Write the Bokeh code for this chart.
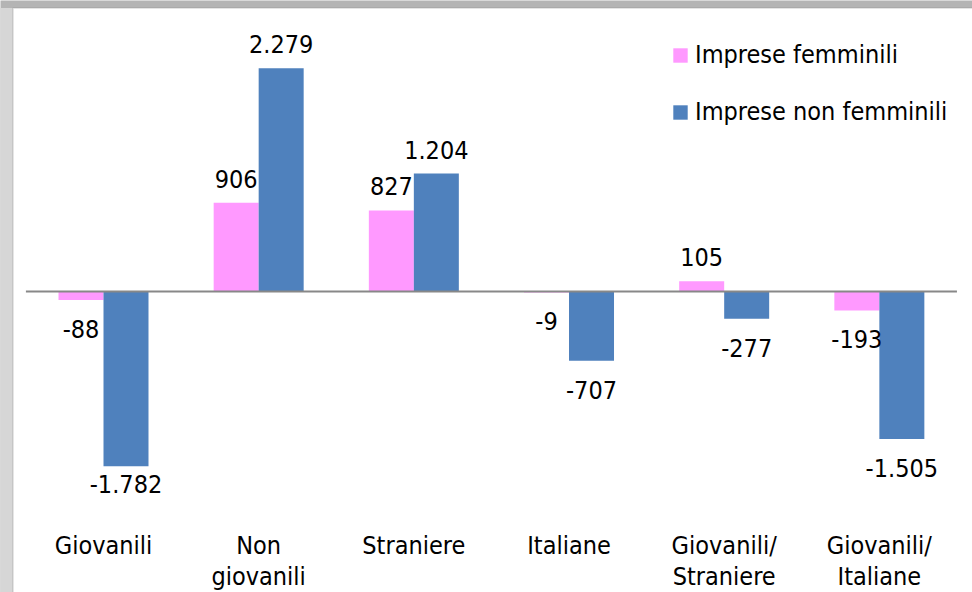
from bokeh.plotting import figure
from bokeh.models import ColumnDataSource, Range1d, Legend, LegendItem, BoxAnnotation
from bokeh.core.properties import value
from bokeh.embed import file_html
from bokeh.resources import INLINE

# ---- data ----
categories = ["Giovanili", "Non\ngiovanili", "Straniere", "Italiane",
              "Giovanili/\nStraniere", "Giovanili/\nItaliane"]
femminili = [-88, 906, 827, -9, 105, -193]
non_femminili = [-1782, 2279, 1204, -707, -277, -1505]
series_names = ["Imprese femminili", "Imprese non femminili"]
colors = ["#FF99FF", "#4F81BD"]

FONT = "DejaVu Sans Condensed"
FS = "25px"

W, H = 972, 592
# pixel geometry of the plotting area
zero_px = 291.0          # y pixel of value 0 from top
px_per_unit = 0.098      # pixels per unit
cat_px = 155.17          # width of one category
first_center_px = 103.0  # x pixel of first category center

y_top = zero_px / px_per_unit
y_bot = -(H - zero_px) / px_per_unit
x_start = -first_center_px / cat_px
x_end = (W - first_center_px) / cat_px

def px2y(py):
    return (zero_px - py) / px_per_unit

def px2x(px):
    return (px - first_center_px) / cat_px

p = figure(width=W, height=H, output_backend="svg", toolbar_location=None,
           x_range=Range1d(x_start, x_end), y_range=Range1d(y_bot, y_top),
           x_axis_location=None, y_axis_location=None,
           min_border=0, min_border_left=0, min_border_right=0,
           min_border_top=0, min_border_bottom=0)
p.outline_line_color = None
p.grid.visible = False
p.background_fill_color = "#b4b4b4"
p.border_fill_color = "white"

# window frame (gray strips) and white chart area
p.add_layout(BoxAnnotation(right=px2x(12.5), top=px2y(7.5), fill_color="#d6d6d6",
                           fill_alpha=1, line_color=None, level="underlay"))
p.add_layout(BoxAnnotation(left=px2x(12.5), top=px2y(7.5),
                           right=px2x(W + 20), bottom=px2y(H + 20),
                           fill_color="white", fill_alpha=1,
                           line_color="#8a8a8a", line_width=1.5,
                           level="underlay"))

idx = list(range(len(categories)))
bw = 0.29
xf = [i - bw / 2 for i in idx]
xn = [i + bw / 2 for i in idx]

def fmt(v):
    return f"{v:,}".replace(",", ".")

src_f = ColumnDataSource(dict(x=xf, top=femminili))
src_n = ColumnDataSource(dict(x=xn, top=non_femminili))
r_f = p.vbar(x="x", top="top", bottom=0, width=bw, source=src_f,
             fill_color=colors[0], line_color=None)
r_n = p.vbar(x="x", top="top", bottom=0, width=bw, source=src_n,
             fill_color=colors[1], line_color=None)

# zero line
p.segment(x0=[-0.5], x1=[len(categories) - 0.5], y0=[0], y1=[0],
          line_color="#888888", line_width=2)

# data labels
above = 24 / px_per_unit
below = 29 / px_per_unit
floor = px2y(483)

def label_y(v):
    if v >= 0:
        return v + above
    return max(v - below, floor)

lx = xf + xn
lv = femminili + non_femminili
src_l = ColumnDataSource(dict(x=lx, y=[label_y(v) for v in lv],
                              t=[fmt(v) for v in lv]))
p.text(x="x", y="y", text="t", source=src_l, text_align="center",
       text_baseline="alphabetic", text_font=value(FONT),
       text_font_size=FS, text_color="#000000")

# category labels
src_c = ColumnDataSource(dict(x=idx, y=[px2y(530)] * len(idx), t=categories))
p.text(x="x", y="y", text="t", source=src_c, text_align="center",
       text_baseline="top", text_font=value(FONT), text_font_size=FS,
       text_color="#000000", text_line_height=1.1)

legend = Legend(items=[LegendItem(label=series_names[0], renderers=[r_f]),
                       LegendItem(label=series_names[1], renderers=[r_n])],
                location=(671, 466), orientation="vertical",
                glyph_width=18, glyph_height=18, label_height=18,
                label_standoff=6, spacing=28, padding=0, margin=0,
                border_line_color=None, background_fill_alpha=0,
                label_text_font=FONT, label_text_font_size=FS,
                label_text_color="#000000")
p.add_layout(legend)

open("out.html", "w").write(file_html(p, INLINE))
